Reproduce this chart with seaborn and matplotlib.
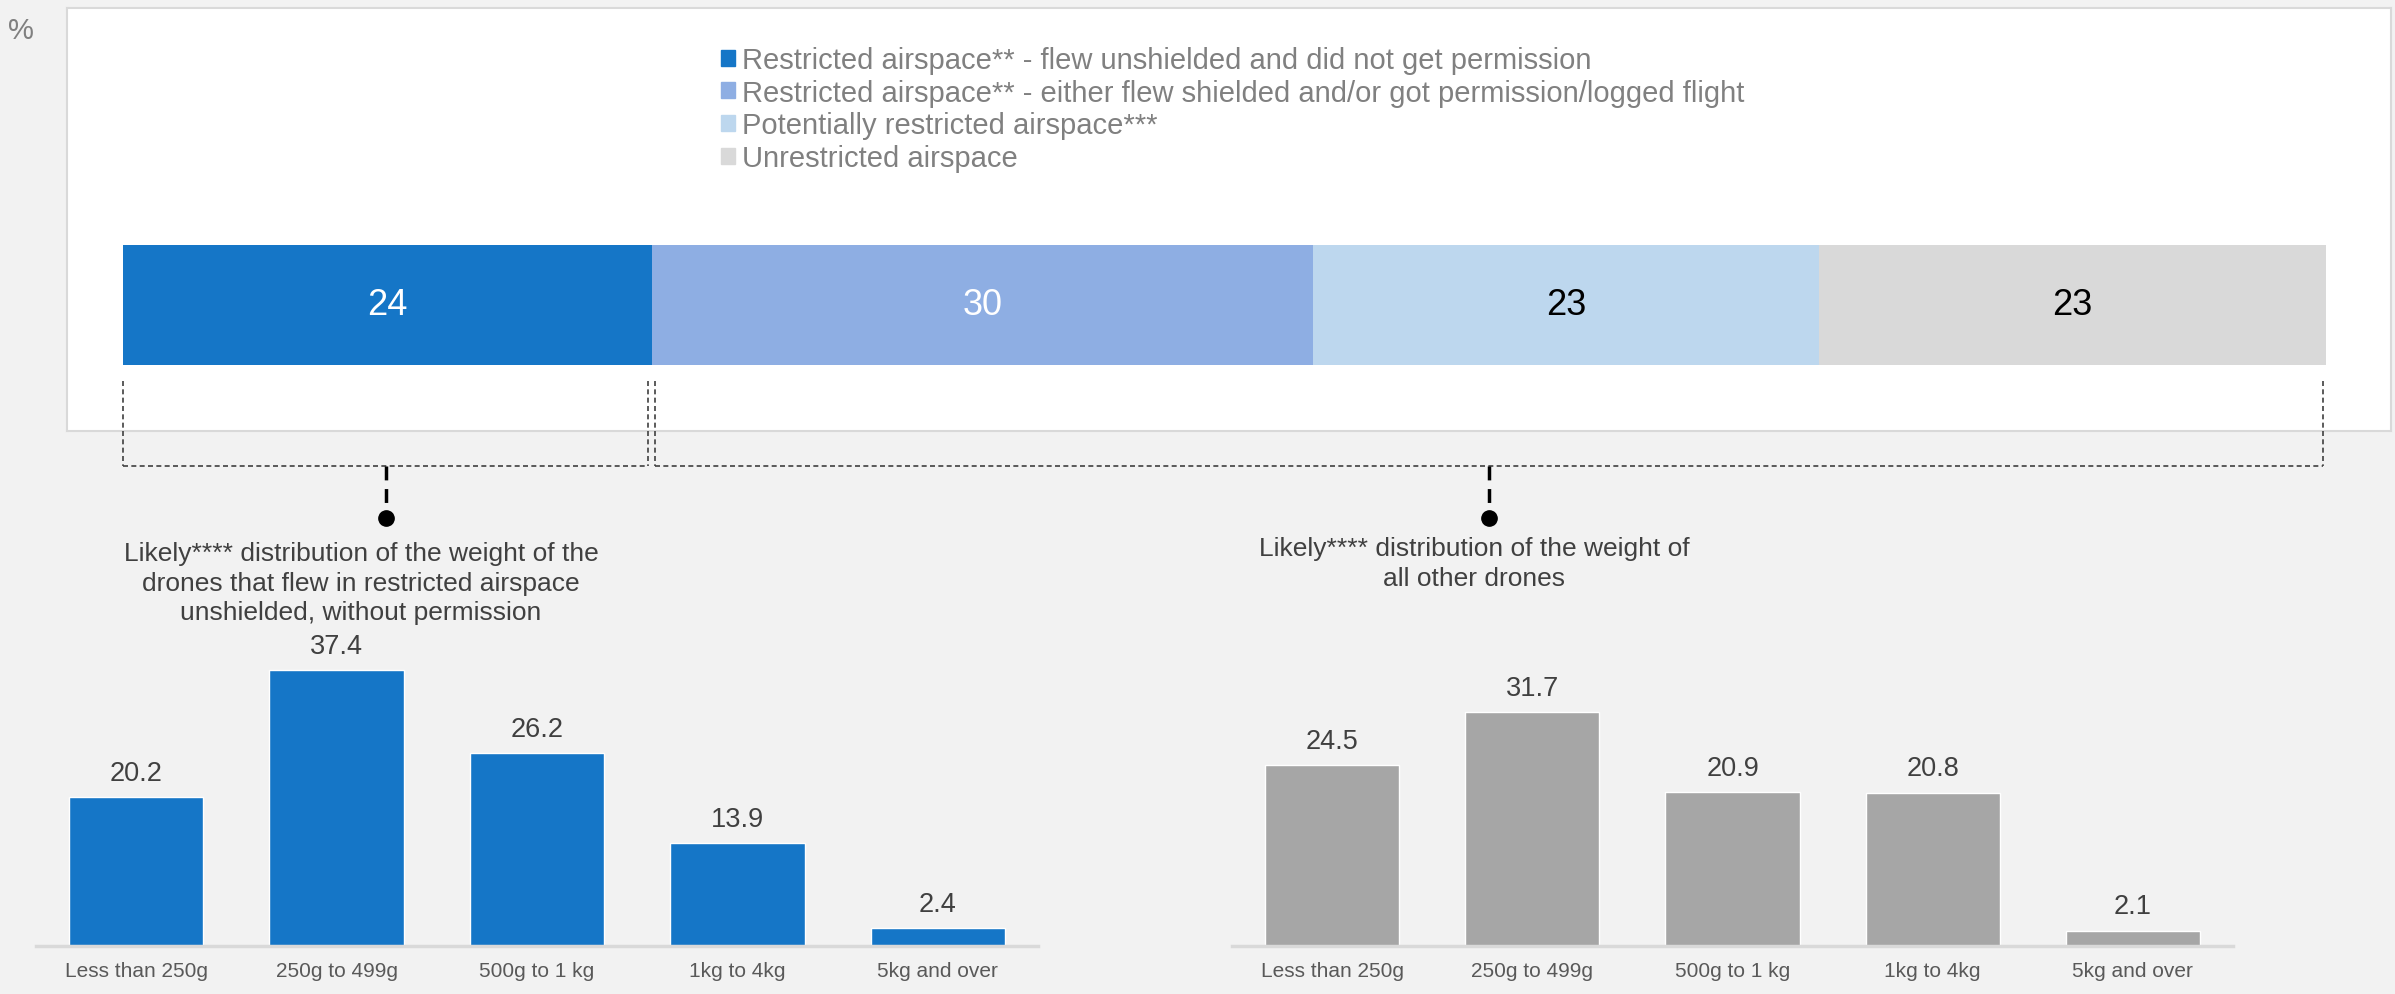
import numpy as np
import matplotlib
matplotlib.use("Agg")
import matplotlib.pyplot as plt
from matplotlib.patches import Patch
import seaborn as sns

# data
airspace_labels = ["Restricted airspace** - flew unshielded and did not get permission",
                   "Restricted airspace** - either flew shielded and/or got permission/logged flight",
                   "Potentially restricted airspace***",
                   "Unrestricted airspace"]
airspace_pct = [24, 30, 23, 23]
airspace_colors = ["#1576C7", "#8EAEE3", "#BDD7EE", "#D9D9D9"]
airspace_text_colors = ["white", "white", "black", "black"]

weight_cats = ["Less than 250g", "250g to 499g", "500g to 1 kg", "1kg to 4kg", "5kg and over"]
restricted_weights = [20.2, 37.4, 26.2, 13.9, 2.4]
other_weights = [24.5, 31.7, 20.9, 20.8, 2.1]

left_caption = "Likely**** distribution of the weight of the\ndrones that flew in restricted airspace\nunshielded, without permission"
right_caption = "Likely**** distribution of the weight of\nall other drones"

sns.set_style("white")
plt.rcParams['font.family'] = ['Liberation Sans', 'DejaVu Sans']

W, H = 2395, 995
fig = plt.figure(figsize=(W / 100, H / 100), dpi=100, facecolor="#F2F2F2")


def rect(l, t, r, b):
    return [l / W, 1 - b / H, (r - l) / W, (b - t) / H]


# white panel behind the stacked bar
panel = fig.add_axes(rect(67, 9, 2391, 432), facecolor="white")
panel.set_xticks([])
panel.set_yticks([])
for s in panel.spines.values():
    s.set_color("#D9D9D9")
    s.set_linewidth(1.5)

# stacked bar
bar_l, bar_r = 123, 2326
axb = fig.add_axes(rect(bar_l, 246, bar_r, 366))
axb.patch.set_alpha(0)
left = 0
for val, col, tc in zip(airspace_pct, airspace_colors, airspace_text_colors):
    axb.barh(0, val, left=left, height=1, color=col, linewidth=0)
    axb.text(left + val / 2, 0, str(val), ha="center", va="center", fontsize=26, color=tc)
    left += val
axb.set_xlim(0, sum(airspace_pct))
axb.set_ylim(-0.5, 0.5)
axb.axis("off")

fig.legend(handles=[Patch(color=c) for c in airspace_colors], labels=airspace_labels,
           loc="upper left", bbox_to_anchor=(721 / W, 1 - 47 / H), frameon=False,
           fontsize=21, labelcolor="#808080", handlelength=0.48, handleheight=0.48,
           handletextpad=0.25, labelspacing=0.16, borderpad=0, borderaxespad=0)


def weight_chart(rc, vals, color):
    ax = fig.add_axes(rc)
    ax.patch.set_alpha(0)
    sns.barplot(x=weight_cats, y=vals, color=color, saturation=1, width=0.67, ax=ax)
    ax.set_xlim(-0.5, 4.5)
    ax.set_ylim(0, 40)
    ax.set_yticks([])
    for k in ["left", "right", "top"]:
        ax.spines[k].set_visible(False)
    ax.spines["bottom"].set_color("#D9D9D9")
    ax.spines["bottom"].set_linewidth(2.5)
    ax.tick_params(axis="x", length=0, pad=11, labelsize=15, labelcolor="#595959")
    ax.bar_label(ax.containers[0], fmt="%.1f", padding=8, fontsize=19.5, color="#404040")
    return ax


weight_chart(rect(36, 652, 1038, 947), restricted_weights, "#1576C7")
weight_chart(rect(1232, 652, 2233, 947), other_weights, "#A6A6A6")

# overlay for brackets and captions
ov = fig.add_axes([0, 0, 1, 1])
ov.patch.set_alpha(0)
ov.set_xlim(0, W)
ov.set_ylim(H, 0)
ov.axis("off")


def px(v):
    return bar_l + v / sum(airspace_pct) * (bar_r - bar_l)


x0, x1, x2 = px(0), px(airspace_pct[0]), px(sum(airspace_pct))
top_y, bot_y = 382, 467
thin = dict(color="#404040", lw=1.2, ls=(0, (3, 2)))
for a, b in [(x0, x1 - 3.5), (x1 + 3.5, x2 - 3)]:
    ov.plot([a, a], [top_y, bot_y], **thin)
    ov.plot([b, b], [top_y, bot_y], **thin)
    ov.plot([a, b], [bot_y, bot_y], **thin)
    mid = (a + b) / 2
    ov.plot([mid, mid], [bot_y, 517], color="black", lw=2.5, ls=(0, (4, 2.5)))
    ov.plot(mid, 519, "o", ms=11, color="black")

ov.text(361, 542, left_caption, ha="center", va="top", fontsize=19, color="#404040", linespacing=1.3)
ov.text(1474, 537, right_caption, ha="center", va="top", fontsize=19, color="#404040", linespacing=1.3)
ov.text(21, 31, "%", ha="center", va="center", fontsize=21, color="#808080")

fig.savefig("out.png", dpi=100, facecolor=fig.get_facecolor())
